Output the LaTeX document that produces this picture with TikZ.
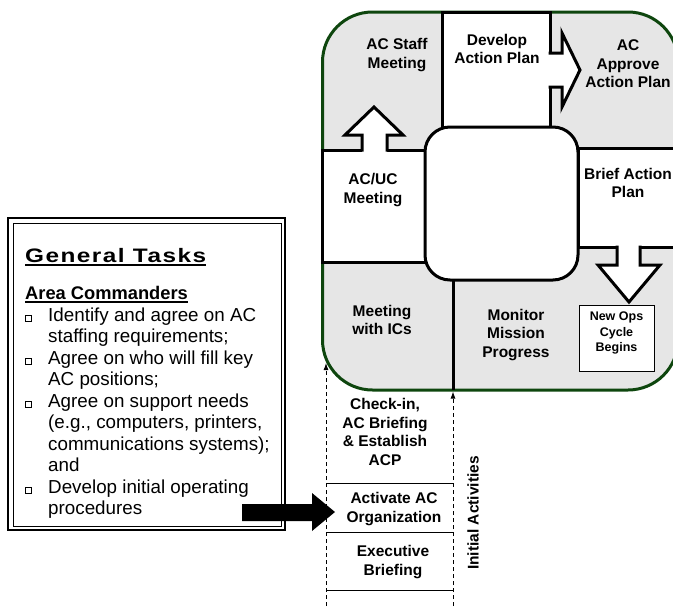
\documentclass[tikz,border=0pt]{standalone}
\usepackage{graphicx}
\usepackage{fontspec}
\setmainfont{Liberation Sans}
\newfontfamily\spacedfont[LetterSpace=6]{Liberation Sans}
\usetikzlibrary{arrows.meta}

\definecolor{panelgrey}{RGB}{230,230,230}
\definecolor{rimgreen}{RGB}{14,70,14}

% hollow square bullet, set in a fixed-width slot
\newcommand\boxbul{\makebox[23pt][l]{\setlength\fboxsep{0pt}\setlength\fboxrule{0.7pt}\fbox{\rule{0pt}{5.5pt}\rule{5.5pt}{0pt}}}}
% heavy underline
\newcommand\heavyul[2]{\setbox0\hbox{#2}\rlap{\rule[-#1]{\wd0}{1.7pt}}\box0}

\begin{document}
\begin{tikzpicture}[x=1pt,y=-1pt,
  lbl/.style={font=\fontsize{15.5}{18.5}\selectfont\bfseries, align=center, inner sep=0pt},
  smalllbl/.style={font=\fontsize{12.5}{15.5}\selectfont\bfseries, align=center, inner sep=0pt},
  stagebox/.style={fill=white, draw=black, line width=3pt},
  blockline/.style={draw=black, line width=3pt, line join=miter},
  thinrule/.style={line width=0.9pt},
  dashflow/.style={line width=0.9pt, dash pattern=on 4pt off 3pt, -{Latex[length=7pt,width=5pt]}}
]
\useasboundingbox (0,0) rectangle (673,606);
\clip (0,0) rectangle (673,606);

% ---- cycle panel ----
\draw[fill=panelgrey, draw=rimgreen, line width=3pt, rounded corners=50pt]
  (322.5,12) rectangle (678,390);

\draw[stagebox] (442,12) rectangle (550,127);
\draw[stagebox] (322.5,150) rectangle (425,262);
\draw[stagebox] (578,148) rectangle (680,247);
\draw[stagebox, rounded corners=25pt] (425,127) rectangle (578,280);
\draw[line width=3pt] (453,280) -- (453,390);

% block arrows between stages
\fill[white] (548,53) -- (562,53) -- (562,33) -- (580,70) -- (562,107) -- (562,87) -- (548,87) -- cycle;
\draw[blockline] (548.5,53) -- (562,53) -- (562,33) -- (580,70) -- (562,107) -- (562,87) -- (548.5,87);

\fill[white] (362,152) -- (362,135) -- (345,135) -- (374,107) -- (403,135) -- (387,135) -- (387,152) -- cycle;
\draw[blockline] (362,151.5) -- (362,135) -- (345,135) -- (374,107) -- (403,135) -- (387,135) -- (387,151.5);

\fill[white] (617,245) -- (617,265) -- (598,265) -- (629,302) -- (660,265) -- (640,265) -- (640,245) -- cycle;
\draw[blockline] (617,245.5) -- (617,265) -- (598,265) -- (629,302) -- (660,265) -- (640,265) -- (640,245.5);

\draw[fill=white, line width=1pt] (579,305) rectangle (654,371);

% stage labels
\node[lbl] (staff)   at (397,55)  {AC Staff\\Meeting};
\node[lbl] (develop) at (497,49)  {Develop\\Action Plan};
\node[lbl] (approve) at (628,64)  {AC\\Approve\\Action Plan};
\node[lbl] (acuc)    at (373,190) {AC/UC\\Meeting};
\node[lbl] (brief)   at (628,183) {Brief Action\\Plan};
\node[lbl] (ics)     at (382,320) {Meeting\\with ICs};
\node[lbl] (monitor) at (516,335) {Monitor\\Mission\\Progress};
\node[smalllbl] (newops) at (616.5,333) {New Ops\\Cycle\\Begins};

% ---- initial activities column ----
\coordinate (lbot) at (326,606);
\coordinate (ltop) at (326,363);
\coordinate (rbot) at (453,606);
\coordinate (rtop) at (453,391.5);
\draw[dashflow] (lbot) -- (ltop);
\draw[dashflow] (rbot) -- (rtop);

\draw[thinrule] (326,483) -- (453,483);
\draw[thinrule] (326,532) -- (453,532);
\draw[thinrule] (326,590) -- (453,590);

\node[lbl] (checkin)  at (385,432) {Check-in,\\AC Briefing\\\& Establish\\ACP};
\node[lbl] (activate) at (394,509) {Activate AC\\Organization};
\node[lbl] (exec)     at (393,562) {Executive\\Briefing};
\node[lbl, rotate=90] (initial) at (473,513) {Initial Activities};

% ---- general tasks panel ----
\draw[line width=2.5pt] (8,218) rectangle (285,530);
\draw[line width=1pt] (13,223) rectangle (281,526);

\node[anchor=base west, inner sep=0pt] (gt) at (25,262)
  {\spacedfont\fontsize{19.5}{22}\selectfont\bfseries\heavyul{3.5pt}{\scalebox{1.25}[1]{General Tasks}}};
\node[anchor=base west, inner sep=0pt] (areacmd) at (25,299)
  {\fontsize{18.3}{22}\selectfont\bfseries\heavyul{4pt}{Area Commanders}};
\node[anchor=base west, inner sep=0pt] (tasks) at (25,321)
  {\fontsize{18.8}{21.5}\selectfont\renewcommand\arraystretch{1}%
   \begin{tabular}[t]{@{}l@{}l@{}}
   \boxbul & Identify and agree on AC\\
           & staffing requirements;\\
   \boxbul & Agree on who will fill key\\
           & AC positions;\\
   \boxbul & Agree on support needs\\
           & (e.g., computers, printers,\\
           & communications systems);\\
           & and\\
   \boxbul & Develop initial operating\\
           & procedures
   \end{tabular}};

% heavy arrow into the activation step
\fill[black] (242,504) -- (312,504) -- (312,493) -- (335,512) -- (312,531) -- (312,521) -- (242,521) -- cycle;
\end{tikzpicture}
\end{document}
